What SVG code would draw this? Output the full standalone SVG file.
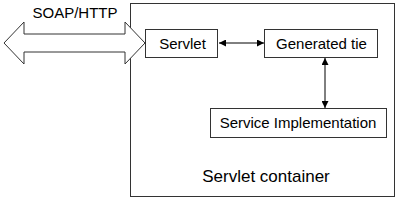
<svg xmlns="http://www.w3.org/2000/svg" width="400" height="200" viewBox="0 0 400 200">
<defs>
<style>
text{font-family:"Liberation Sans",Arial,sans-serif;fill:#000}
.box{fill:#fff;stroke:#333;stroke-width:1}
.con{stroke:#000;stroke-width:1;fill:none}
</style>
<marker id="ah" viewBox="0 0 10 10" refX="10" refY="5" markerWidth="10" markerHeight="7" markerUnits="userSpaceOnUse" orient="auto-start-reverse">
<path d="M0,0 L10,5 L0,10 Z" fill="#000"/>
</marker>
</defs>
<rect width="400" height="200" fill="#fff"/>
<g id="container">
<rect x="130.5" y="3.5" width="264" height="193" fill="#fff" stroke="#333"/>
<text x="266" y="182" text-anchor="middle" font-size="17">Servlet container</text>
</g>
<g id="soap">
<path d="M4,43 L24,22 L24,34 L125,34 L125,22 L145,43 L125,64 L125,52 L24,52 L24,64 Z" fill="#fff" stroke="#333"/>
<text x="75" y="18" text-anchor="middle" font-size="15">SOAP/HTTP</text>
</g>
<g id="servlet">
<rect class="box" x="145.5" y="29.5" width="72" height="28"/>
<text x="182.5" y="49" text-anchor="middle" font-size="15">Servlet</text>
</g>
<g id="tie">
<rect class="box" x="264.5" y="29.5" width="113" height="28"/>
<text x="321.5" y="49" text-anchor="middle" font-size="15">Generated tie</text>
</g>
<g id="impl">
<rect class="box" x="210.5" y="108.5" width="176" height="29"/>
<text x="298" y="128" text-anchor="middle" font-size="15">Service Implementation</text>
</g>
<g id="connectors">
<line class="con" x1="219" y1="43" x2="264" y2="43" marker-start="url(#ah)" marker-end="url(#ah)"/>
<line class="con" x1="325" y1="58" x2="325" y2="108" marker-start="url(#ah)" marker-end="url(#ah)"/>
</g>
</svg>
